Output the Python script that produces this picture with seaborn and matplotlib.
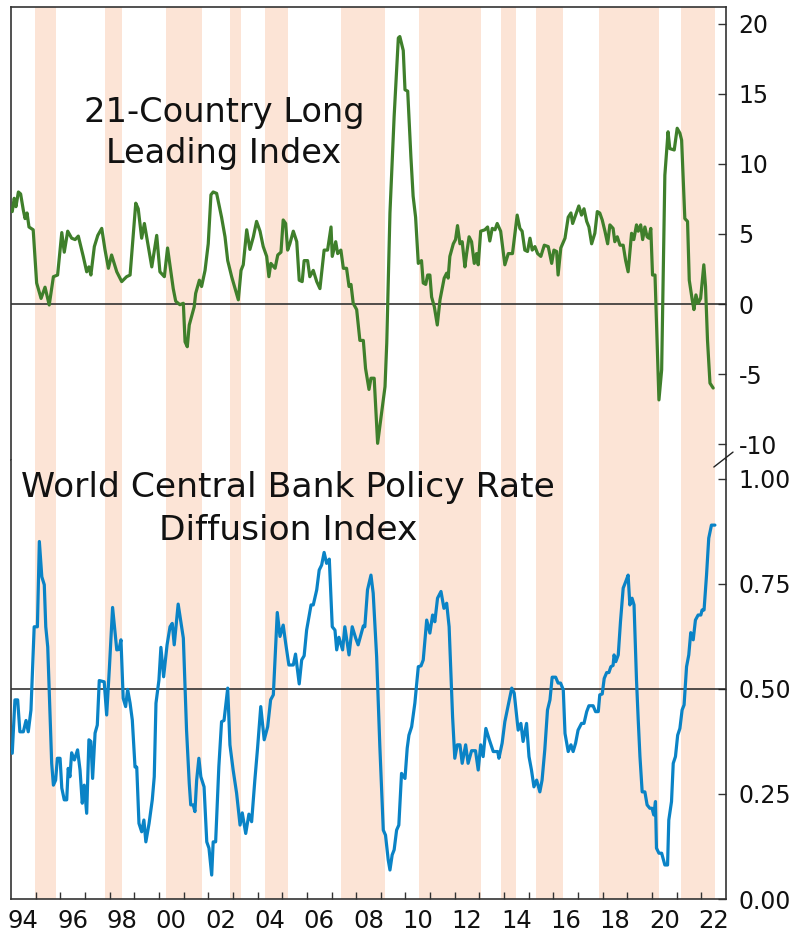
import matplotlib
matplotlib.use("Agg")
import matplotlib.pyplot as plt
import seaborn as sns
import numpy as np
import pandas as pd
from matplotlib.lines import Line2D
from matplotlib.ticker import FixedLocator, FixedFormatter, NullFormatter

# ---------------- data ----------------
# 21-Country Long Leading Index (decimal year, value)
lli_dates = [1994.05, 1994.13, 1994.20, 1994.30, 1994.39, 1994.50, 1994.57, 1994.65, 1994.73, 1994.90,
             1995.04, 1995.22, 1995.38, 1995.55, 1995.72, 1995.89, 1996.06, 1996.16, 1996.30, 1996.46,
             1996.60, 1996.73, 1996.93, 1997.07, 1997.16, 1997.24, 1997.38, 1997.52, 1997.68, 1997.81,
             1997.95, 1998.08, 1998.29, 1998.49, 1998.69, 1998.83, 1999.06, 1999.16, 1999.30, 1999.41,
             1999.57, 1999.71, 1999.91, 2000.04, 2000.22, 2000.35, 2000.52, 2000.58, 2000.68, 2000.85,
             2000.99, 2001.06, 2001.15, 2001.23, 2001.43, 2001.49, 2001.64, 2001.73, 2001.87, 2002.00,
             2002.11, 2002.20, 2002.34, 2002.54, 2002.68, 2002.79, 2002.95, 2003.22, 2003.33, 2003.42,
             2003.56, 2003.69, 2003.83, 2003.96, 2004.10, 2004.23, 2004.37, 2004.46, 2004.54, 2004.71,
             2004.82, 2004.95, 2005.04, 2005.14, 2005.22, 2005.31, 2005.45, 2005.59, 2005.69, 2005.81,
             2005.89, 2006.03, 2006.12, 2006.26, 2006.40, 2006.53, 2006.70, 2006.84, 2006.98, 2007.03,
             2007.17, 2007.25, 2007.38, 2007.48, 2007.61, 2007.71, 2007.79, 2007.88, 2008.02, 2008.15,
             2008.29, 2008.38, 2008.52, 2008.60, 2008.73, 2008.87, 2009.03, 2009.17, 2009.24, 2009.37,
             2009.54, 2009.71, 2009.77, 2009.91, 2009.98, 2010.09, 2010.22, 2010.31, 2010.41, 2010.52,
             2010.65, 2010.72, 2010.82, 2010.90, 2010.99, 2011.06, 2011.17, 2011.29, 2011.40, 2011.57,
             2011.67, 2011.73, 2011.80, 2011.94, 2012.03, 2012.11, 2012.21, 2012.30, 2012.41, 2012.48,
             2012.58, 2012.68, 2012.79, 2012.88, 2012.95, 2013.05, 2013.22, 2013.33, 2013.42, 2013.52,
             2013.63, 2013.72, 2013.86, 2014.03, 2014.17, 2014.34, 2014.53, 2014.64, 2014.73, 2014.84,
             2014.95, 2015.05, 2015.14, 2015.25, 2015.36, 2015.49, 2015.63, 2015.79, 2015.93, 2016.02,
             2016.13, 2016.19, 2016.30, 2016.47, 2016.60, 2016.71, 2016.78, 2016.90, 2017.03, 2017.14,
             2017.24, 2017.35, 2017.44, 2017.55, 2017.68, 2017.78, 2017.88, 2017.98, 2018.09, 2018.20,
             2018.29, 2018.42, 2018.49, 2018.59, 2018.70, 2018.83, 2018.93, 2019.03, 2019.17, 2019.26,
             2019.37, 2019.44, 2019.54, 2019.62, 2019.71, 2019.80, 2019.87, 2019.95, 2020.02, 2020.12,
             2020.28, 2020.39, 2020.52, 2020.65, 2020.72, 2020.90, 2021.02, 2021.13, 2021.20, 2021.33,
             2021.44, 2021.51, 2021.63, 2021.70, 2021.78, 2021.87, 2021.97, 2022.10, 2022.17, 2022.25,
             2022.35, 2022.48]
lli_values = [6.6, 7.55, 6.95, 8.0, 7.86, 6.7, 6.1, 6.5, 5.5, 5.3,
              1.5, 0.4, 1.2, -0.07, 1.95, 2.07, 5.1, 3.7, 5.2, 4.7,
              4.6, 4.85, 3.4, 2.3, 2.65, 2.07, 4.1, 4.9, 5.4, 3.9,
              2.55, 3.5, 2.3, 1.6, 1.95, 2.07, 7.2, 6.8, 4.7, 5.75,
              4.1, 2.65, 4.9, 2.3, 1.95, 4.0, 1.85, 1.1, 0.2, -0.05,
              0.05, -2.7, -3.05, -1.5, -0.2, 0.76, 1.7, 1.25, 2.4, 4.3,
              7.8, 8.0, 7.9, 6.2, 4.8, 3.1, 1.95, 0.3, 2.4, 2.8,
              5.3, 3.9, 4.8, 5.9, 5.2, 4.1, 3.4, 1.95, 2.9, 2.55,
              3.5, 3.7, 6.0, 5.75, 3.85, 4.3, 5.2, 4.45, 1.7, 1.6,
              3.1, 3.1, 1.95, 2.4, 1.6, 1.1, 3.85, 3.85, 5.5, 3.4,
              4.45, 3.6, 3.85, 2.55, 2.55, 1.25, 1.4, 0.05, -0.4, -2.6,
              -2.6, -4.6, -6.1, -5.3, -5.3, -9.95, -7.8, -5.9, -2.8, 6.5,
              13.4, 19.0, 19.1, 18.1, 15.3, 15.2, 10.5, 7.7, 6.2, 2.9,
              3.1, 1.5, 1.4, 2.07, 2.07, 0.5, -0.2, -1.5, 0.3, 1.85,
              2.2, 1.85, 3.4, 4.3, 4.6, 5.6, 4.3, 4.45, 2.65, 3.6,
              4.8, 4.45, 2.9, 3.6, 2.8, 5.2, 5.3, 5.5, 4.5, 5.4,
              5.3, 5.75, 5.2, 2.8, 3.6, 3.6, 6.35, 5.4, 5.2, 3.85,
              3.75, 4.7, 3.85, 4.1, 3.6, 3.4, 4.2, 4.1, 2.9, 3.85,
              3.75, 2.07, 4.0, 4.7, 6.2, 6.5, 5.75, 6.35, 7.0, 6.35,
              6.8, 5.9, 5.5, 4.3, 5.05, 6.6, 6.5, 6.0, 5.2, 4.3,
              5.65, 5.4, 4.45, 4.8, 4.2, 4.2, 3.1, 2.3, 5.05, 4.6,
              5.65, 5.2, 5.65, 4.6, 5.5, 4.8, 4.7, 5.4, 2.07, 2.07,
              -6.85, -4.7, 9.2, 12.3, 11.1, 11.0, 12.55, 12.2, 11.7, 6.1,
              5.9, 1.7, 0.3, -0.4, 0.65, 0.05, 0.4, 2.8, 1.25, -2.6,
              -5.65, -6.0]

# World Central Bank Policy Rate Diffusion Index (decimal year, value)
cb_dates = [1994.05, 1994.16, 1994.27, 1994.36, 1994.50, 1994.61, 1994.70, 1994.81, 1994.94, 1995.07,
            1995.15, 1995.25, 1995.35, 1995.41, 1995.49, 1995.65, 1995.72, 1995.81, 1995.88, 1995.99,
            1996.06, 1996.16, 1996.26, 1996.32, 1996.39, 1996.46, 1996.57, 1996.70, 1996.80, 1996.89,
            1996.97, 1997.07, 1997.16, 1997.24, 1997.31, 1997.41, 1997.50, 1997.58, 1997.78, 1997.88,
            1997.99, 1998.12, 1998.29, 1998.38, 1998.46, 1998.55, 1998.65, 1998.73, 1998.83, 1998.92,
            1999.03, 1999.10, 1999.19, 1999.30, 1999.39, 1999.47, 1999.60, 1999.73, 1999.81, 1999.88,
            2000.00, 2000.08, 2000.19, 2000.33, 2000.45, 2000.54, 2000.62, 2000.78, 2000.99, 2001.12,
            2001.23, 2001.29, 2001.39, 2001.46, 2001.53, 2001.62, 2001.70, 2001.83, 2001.94, 2002.03,
            2002.14, 2002.20, 2002.30, 2002.43, 2002.54, 2002.64, 2002.79, 2002.88, 2003.01, 2003.15,
            2003.29, 2003.38, 2003.52, 2003.65, 2003.76, 2003.89, 2004.00, 2004.13, 2004.27, 2004.41,
            2004.53, 2004.64, 2004.80, 2004.91, 2005.04, 2005.14, 2005.27, 2005.45, 2005.54, 2005.69,
            2005.79, 2005.89, 2005.99, 2006.17, 2006.26, 2006.40, 2006.50, 2006.60, 2006.70, 2006.80,
            2006.91, 2007.03, 2007.14, 2007.21, 2007.30, 2007.45, 2007.54, 2007.71, 2007.84, 2007.98,
            2008.08, 2008.29, 2008.35, 2008.46, 2008.60, 2008.69, 2008.83, 2008.96, 2009.10, 2009.19,
            2009.30, 2009.37, 2009.46, 2009.54, 2009.64, 2009.73, 2009.84, 2009.98, 2010.07, 2010.14,
            2010.25, 2010.38, 2010.52, 2010.63, 2010.72, 2010.86, 2010.99, 2011.10, 2011.19, 2011.30,
            2011.44, 2011.56, 2011.67, 2011.77, 2011.91, 2012.00, 2012.10, 2012.21, 2012.30, 2012.44,
            2012.54, 2012.68, 2012.84, 2012.95, 2013.05, 2013.15, 2013.26, 2013.40, 2013.56, 2013.74,
            2013.79, 2013.92, 2014.03, 2014.17, 2014.31, 2014.41, 2014.57, 2014.68, 2014.77, 2014.91,
            2015.01, 2015.11, 2015.21, 2015.32, 2015.45, 2015.54, 2015.65, 2015.76, 2015.86, 2015.95,
            2016.09, 2016.19, 2016.29, 2016.40, 2016.47, 2016.60, 2016.71, 2016.80, 2016.90, 2017.00,
            2017.14, 2017.24, 2017.35, 2017.44, 2017.61, 2017.71, 2017.82, 2017.88, 2017.98, 2018.06,
            2018.16, 2018.25, 2018.33, 2018.42, 2018.46, 2018.53, 2018.63, 2018.72, 2018.83, 2018.93,
            2019.03, 2019.10, 2019.19, 2019.27, 2019.37, 2019.44, 2019.51, 2019.60, 2019.71, 2019.80,
            2019.91, 2020.00, 2020.07, 2020.14, 2020.18, 2020.28, 2020.39, 2020.52, 2020.63, 2020.68,
            2020.79, 2020.86, 2020.95, 2021.04, 2021.13, 2021.22, 2021.30, 2021.40, 2021.49, 2021.57,
            2021.67, 2021.76, 2021.87, 2021.98, 2022.03, 2022.11, 2022.21, 2022.30, 2022.41, 2022.55]
cb_values = [0.347, 0.474, 0.474, 0.398, 0.398, 0.425, 0.398, 0.45, 0.648, 0.648,
             0.851, 0.767, 0.748, 0.648, 0.60, 0.323, 0.271, 0.283, 0.335, 0.335,
             0.264, 0.236, 0.236, 0.311, 0.291, 0.348, 0.331, 0.355, 0.307, 0.228,
             0.271, 0.204, 0.379, 0.375, 0.287, 0.395, 0.414, 0.52, 0.517, 0.438,
             0.549, 0.694, 0.593, 0.594, 0.617, 0.478, 0.458, 0.499, 0.466, 0.426,
             0.314, 0.314, 0.18, 0.16, 0.188, 0.136, 0.18, 0.236, 0.291, 0.466,
             0.521, 0.599, 0.529, 0.605, 0.648, 0.656, 0.605, 0.702, 0.621, 0.402,
             0.275, 0.224, 0.224, 0.208, 0.283, 0.335, 0.291, 0.267, 0.136, 0.121,
             0.057, 0.136, 0.136, 0.315, 0.422, 0.425, 0.502, 0.367, 0.307, 0.252,
             0.176, 0.205, 0.156, 0.202, 0.184, 0.283, 0.359, 0.458, 0.379, 0.41,
             0.474, 0.486, 0.682, 0.625, 0.652, 0.609, 0.557, 0.557, 0.583, 0.512,
             0.569, 0.579, 0.64, 0.70, 0.70, 0.736, 0.783, 0.795, 0.825, 0.799,
             0.809, 0.648, 0.64, 0.593, 0.623, 0.593, 0.648, 0.581, 0.648, 0.621,
             0.605, 0.65, 0.648, 0.736, 0.771, 0.728, 0.577, 0.363, 0.164, 0.152,
             0.093, 0.069, 0.105, 0.117, 0.164, 0.176, 0.299, 0.287, 0.359, 0.39,
             0.41, 0.466, 0.553, 0.555, 0.569, 0.664, 0.633, 0.676, 0.66, 0.716,
             0.732, 0.692, 0.704, 0.648, 0.434, 0.335, 0.367, 0.367, 0.323, 0.367,
             0.323, 0.353, 0.353, 0.307, 0.367, 0.339, 0.406, 0.379, 0.351, 0.351,
             0.335, 0.371, 0.422, 0.462, 0.502, 0.49, 0.402, 0.418, 0.375, 0.418,
             0.339, 0.307, 0.267, 0.283, 0.255, 0.283, 0.355, 0.45, 0.474, 0.528,
             0.528, 0.514, 0.514, 0.498, 0.394, 0.351, 0.367, 0.351, 0.371, 0.402,
             0.418, 0.418, 0.446, 0.46, 0.46, 0.446, 0.446, 0.486, 0.488, 0.525,
             0.539, 0.539, 0.553, 0.556, 0.581, 0.565, 0.581, 0.66, 0.74, 0.755,
             0.771, 0.70, 0.716, 0.70, 0.521, 0.426, 0.339, 0.255, 0.255, 0.224,
             0.216, 0.216, 0.20, 0.232, 0.121, 0.109, 0.109, 0.081, 0.081, 0.188,
             0.232, 0.323, 0.339, 0.39, 0.406, 0.45, 0.462, 0.553, 0.581, 0.634,
             0.617, 0.664, 0.676, 0.676, 0.688, 0.688, 0.771, 0.859, 0.890, 0.890]

# shaded periods (decimal year start / end)
shade_start = [1994.97, 1997.81, 2000.29, 2002.88, 2004.30, 2007.38, 2010.55, 2013.87, 2015.29, 2017.84, 2021.17]
shade_end = [1995.82, 1998.50, 2001.75, 2003.33, 2005.23, 2009.17, 2013.06, 2014.48, 2016.38, 2020.28, 2022.55]

top_ticks = [-10, -5, 0, 5, 10, 15, 20]
bottom_ticks = [0.0, 0.25, 0.50, 0.75, 1.00]
year_ticks = list(range(1995, 2023))
year_label_pos = [y + 0.5 for y in range(1994, 2023, 2)]
year_labels = ["94", "96", "98", "00", "02", "04", "06", "08", "10", "12", "14", "16", "18", "20", "22"]

top_title = ["21-Country Long", "Leading Index"]
bottom_title = ["World Central Bank Policy Rate", "Diffusion Index"]

# ---------------- style ----------------
sns.set_style("white")
FONT = ["DejaVu Sans"]
plt.rcParams["font.family"] = FONT

GREEN = "#3f7f2b"
BLUE = "#0a83c6"
SHADE = "#fce4d6"
SPINE = "#333333"

W, H = 797, 938
fig = plt.figure(figsize=(W / 100, H / 100), dpi=100)

left_px, right_px = 11, 726
top_px, mid_px, bot_px = 7, 460, 899
ax1 = fig.add_axes([left_px / W, 1 - mid_px / H, (right_px - left_px) / W, (mid_px - top_px) / H])
ax2 = fig.add_axes([left_px / W, 1 - bot_px / H, (right_px - left_px) / W, (bot_px - mid_px) / H], sharex=ax1)

for ax in (ax1, ax2):
    for s, e in zip(shade_start, shade_end):
        ax.axvspan(s, e, color=SHADE, lw=0, zorder=0)

df1 = pd.DataFrame({"date": lli_dates, "value": lli_values})
df2 = pd.DataFrame({"date": cb_dates, "value": cb_values})

ax1.axhline(0, color="#222222", lw=1.1, zorder=2)
ax2.axhline(0.5, color="#222222", lw=1.1, zorder=2)

sns.lineplot(data=df1, x="date", y="value", ax=ax1, color=GREEN, linewidth=2.3,
             estimator=None, sort=False, zorder=3)
sns.lineplot(data=df2, x="date", y="value", ax=ax2, color=BLUE, linewidth=2.3,
             estimator=None, sort=False, zorder=3)

ax1.set_xlim(1994.0, 2023.0)
ax1.set_ylim(-11.14, 21.21)
ax2.set_ylim(0.0, 1.045)

for ax in (ax1, ax2):
    ax.set_xlabel("")
    ax.set_ylabel("")
    ax.set_facecolor("white")
    for sp in ax.spines.values():
        sp.set_color(SPINE)
        sp.set_linewidth(1.2)
    ax.yaxis.tick_right()
    ax.tick_params(axis="y", which="both", direction="in", length=6, width=1.0,
                   color=SPINE, labelsize=17, pad=9, labelcolor="#111111",
                   left=False, right=True, labelleft=False, labelright=True)

ax1.spines["bottom"].set_visible(False)
ax2.spines["top"].set_visible(False)

ax1.set_yticks(top_ticks)
ax1.set_yticklabels([str(t) for t in top_ticks])
ax2.set_yticks(bottom_ticks)
ax2.set_yticklabels(["%.2f" % t for t in bottom_ticks])

ax1.tick_params(axis="x", which="both", bottom=False, top=False, labelbottom=False)
ax2.xaxis.set_major_locator(FixedLocator(year_ticks))
ax2.xaxis.set_major_formatter(NullFormatter())
ax2.xaxis.set_minor_locator(FixedLocator(year_label_pos))
ax2.xaxis.set_minor_formatter(FixedFormatter(year_labels))
ax2.tick_params(axis="x", which="major", direction="in", length=5, width=1.0, color=SPINE,
                bottom=True, top=False)
ax2.tick_params(axis="x", which="minor", length=0, labelsize=17.5, pad=7, labelcolor="#111111")

# axis break mark
ax2.add_line(Line2D([0.983, 1.0098], [0.984, 1.018], transform=ax2.transAxes,
                    color="#222222", lw=1.0, clip_on=False))

# titles
fig.text(224 / W, 1 - 122 / H, top_title[0], ha="center", va="baseline", fontsize=24.2, color="#111111")
fig.text(224 / W, 1 - 163 / H, top_title[1], ha="center", va="baseline", fontsize=24.2, color="#111111")
fig.text(288 / W, 1 - 497 / H, bottom_title[0], ha="center", va="baseline", fontsize=24.8, color="#111111")
fig.text(288 / W, 1 - 540 / H, bottom_title[1], ha="center", va="baseline", fontsize=24.8, color="#111111")

fig.savefig("out.png", dpi=100, facecolor="white")
